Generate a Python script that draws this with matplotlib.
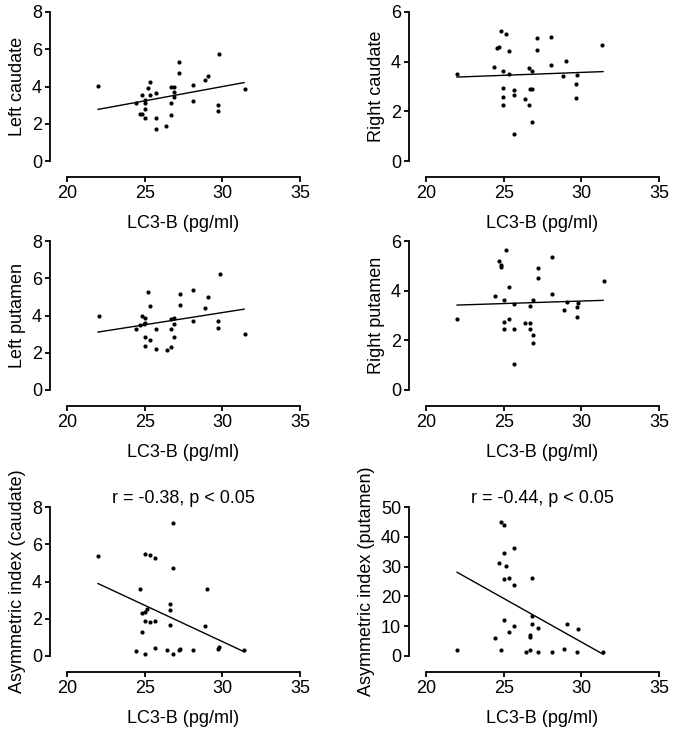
import matplotlib
matplotlib.use("Agg")
import matplotlib.pyplot as plt

plt.rcParams["font.family"] = ["Liberation Sans", "DejaVu Sans"]
plt.rcParams["font.size"] = 13

X_LABEL = "LC3-B (pg/ml)"

# left caudate
lc_x = [22.0, 24.45, 24.84, 24.7, 24.84, 25.0, 25.0, 25.0, 25.0, 25.19, 25.36, 25.36,
        25.7, 25.7, 25.7, 26.39, 26.69, 26.69, 26.69, 26.86, 26.86, 26.86, 27.2, 27.2,
        28.11, 28.11, 28.9, 29.08, 29.73, 29.73, 29.81, 31.43]
lc_y = [4.05, 3.09, 3.54, 2.55, 2.54, 2.32, 2.77, 3.13, 3.27, 3.91, 4.23, 3.52,
        3.63, 2.29, 1.73, 1.86, 2.48, 3.09, 3.95, 3.95, 3.7, 3.43, 5.34, 4.75,
        4.09, 3.23, 4.34, 4.54, 3.0, 2.7, 5.73, 3.88]
lc_fit = [2.77, 4.21]

# right caudate
rc_x = [21.97, 24.4, 24.6, 24.72, 24.8, 24.98, 24.98, 24.98, 24.98, 25.15, 25.32, 25.32,
        25.64, 25.64, 25.64, 26.37, 26.63, 26.63, 26.67, 26.82, 26.82, 26.82, 27.17, 27.17,
        28.07, 28.07, 28.84, 29.01, 29.68, 29.68, 29.74, 31.35]
rc_y = [3.5, 3.78, 4.55, 4.59, 5.22, 3.64, 2.95, 2.56, 2.26, 5.13, 4.43, 3.5,
        2.87, 2.65, 1.1, 2.48, 3.76, 2.26, 2.88, 2.88, 3.63, 1.58, 4.97, 4.46,
        5.0, 3.86, 3.44, 4.02, 3.09, 2.53, 3.47, 4.66]
rc_fit = [3.38, 3.6]

# left putamen
lp_x = [22.04, 24.47, 24.72, 24.82, 24.95, 25.03, 25.03, 25.03, 25.03, 25.2, 25.37, 25.37,
        25.71, 25.71, 26.43, 26.72, 26.72, 26.72, 26.89, 26.89, 26.89, 27.25, 27.25,
        28.13, 28.13, 28.89, 29.08, 29.73, 29.73, 29.82, 31.44]
lp_y = [3.95, 3.27, 3.47, 3.96, 3.56, 3.88, 3.61, 2.83, 2.38, 5.28, 4.53, 2.7,
        3.27, 2.2, 2.13, 2.31, 3.29, 3.82, 3.88, 3.56, 2.83, 5.17, 4.55,
        5.39, 3.73, 4.41, 5.01, 3.72, 3.31, 6.24, 3.02]
lp_fit = [3.11, 4.34]

# right putamen
rp_x = [21.99, 24.43, 24.67, 24.82, 24.86, 25.01, 25.01, 25.01, 25.17, 25.36, 25.36,
        25.68, 25.68, 25.68, 26.4, 26.68, 26.68, 26.68, 26.87, 26.87, 26.87, 27.22, 27.22,
        28.13, 28.13, 28.9, 29.08, 29.75, 29.75, 29.81, 31.43]
rp_y = [2.85, 3.79, 5.19, 5.02, 4.97, 3.62, 2.74, 2.46, 5.62, 4.16, 2.85,
        3.46, 2.46, 1.05, 2.71, 3.4, 2.7, 2.46, 3.62, 2.2, 1.88, 4.91, 4.51,
        5.36, 3.85, 3.22, 3.53, 3.36, 2.95, 3.52, 4.39]
rp_fit = [3.42, 3.61]

# asymmetric index, caudate
ac_x = [22.01, 24.44, 24.67, 24.82, 24.82, 24.99, 24.99, 24.99, 24.99, 25.16, 25.34, 25.34,
        25.68, 25.68, 25.68, 26.41, 26.66, 26.66, 26.66, 26.84, 26.84, 26.84, 27.18, 27.26,
        28.08, 28.87, 29.04, 29.69, 29.77, 31.38]
ac_y = [5.39, 0.29, 3.59, 1.27, 2.29, 2.37, 1.88, 0.09, 5.46, 2.55, 5.41, 1.82,
        5.27, 1.88, 0.45, 0.32, 2.77, 2.46, 1.64, 7.14, 4.71, 0.09, 0.32, 0.38,
        0.32, 1.63, 3.59, 0.38, 0.46, 0.32]
ac_fit = [3.89, 0.23]

# asymmetric index, putamen
ap_x = [22.01, 24.42, 24.68, 24.82, 24.84, 24.99, 24.99, 24.99, 24.99, 25.18, 25.35, 25.35,
        25.69, 25.69, 25.69, 26.41, 26.68, 26.68, 26.71, 26.85, 26.85, 26.85, 27.19, 27.19,
        28.12, 28.88, 29.05, 29.71, 29.8, 31.42]
ap_y = [2.1, 6.2, 31.2, 45.1, 1.9, 44.0, 34.4, 26.0, 12.2, 30.1, 8.1, 26.2,
        36.1, 23.9, 10.0, 1.4, 7.0, 6.3, 2.1, 26.3, 13.4, 10.7, 9.3, 1.4,
        1.4, 2.5, 10.8, 1.5, 9.0, 1.5]
ap_fit = [28.1, 0.6]

fit_range = [22.0, 31.4]

panels = [
    (lc_x, lc_y, lc_fit, "Left caudate", 8, 2, None),
    (rc_x, rc_y, rc_fit, "Right caudate", 6, 2, None),
    (lp_x, lp_y, lp_fit, "Left putamen", 8, 2, None),
    (rp_x, rp_y, rp_fit, "Right putamen", 6, 2, None),
    (ac_x, ac_y, ac_fit, "Asymmetric index (caudate)", 8, 2, "r = -0.38, p < 0.05"),
    (ap_x, ap_y, ap_fit, "Asymmetric index (putamen)", 50, 10, "r = -0.44, p < 0.05"),
]

fig = plt.figure(figsize=(6.75, 7.35), dpi=100)

lefts = [67 / 675, 426 / 675]
bottoms = [1 - 161 / 735, 1 - 390 / 735, 1 - 656 / 735]
w = 233 / 675
h = 149 / 735

for i, (x, y, fit, ylabel, ymax, ystep, title) in enumerate(panels):
    ax = fig.add_axes([lefts[i % 2], bottoms[i // 2], w, h])
    ax.scatter(x, y, s=9, color="black", linewidths=0, zorder=3)
    ax.plot(fit_range, fit, color="black", lw=1.0)

    ax.set_xlim(20, 35)
    ax.set_ylim(0, ymax)
    ax.set_xticks([20, 25, 30, 35])
    ax.set_yticks(range(0, ymax + 1, ystep))

    for side in ["top", "right"]:
        ax.spines[side].set_visible(False)
    ax.spines["left"].set_position(("outward", 12))
    ax.spines["bottom"].set_position(("outward", 11.5))
    for side in ["left", "bottom"]:
        ax.spines[side].set_linewidth(1.3)
    ax.tick_params(width=1.3, length=3.5, pad=2.5, labelsize=13)

    ax.set_xlabel(X_LABEL, fontsize=13, labelpad=9)
    ax.set_ylabel(ylabel, fontsize=13, labelpad=4)
    if title:
        ax.set_title(title, fontsize=13, pad=2)

fig.savefig("out.png", dpi=100)
